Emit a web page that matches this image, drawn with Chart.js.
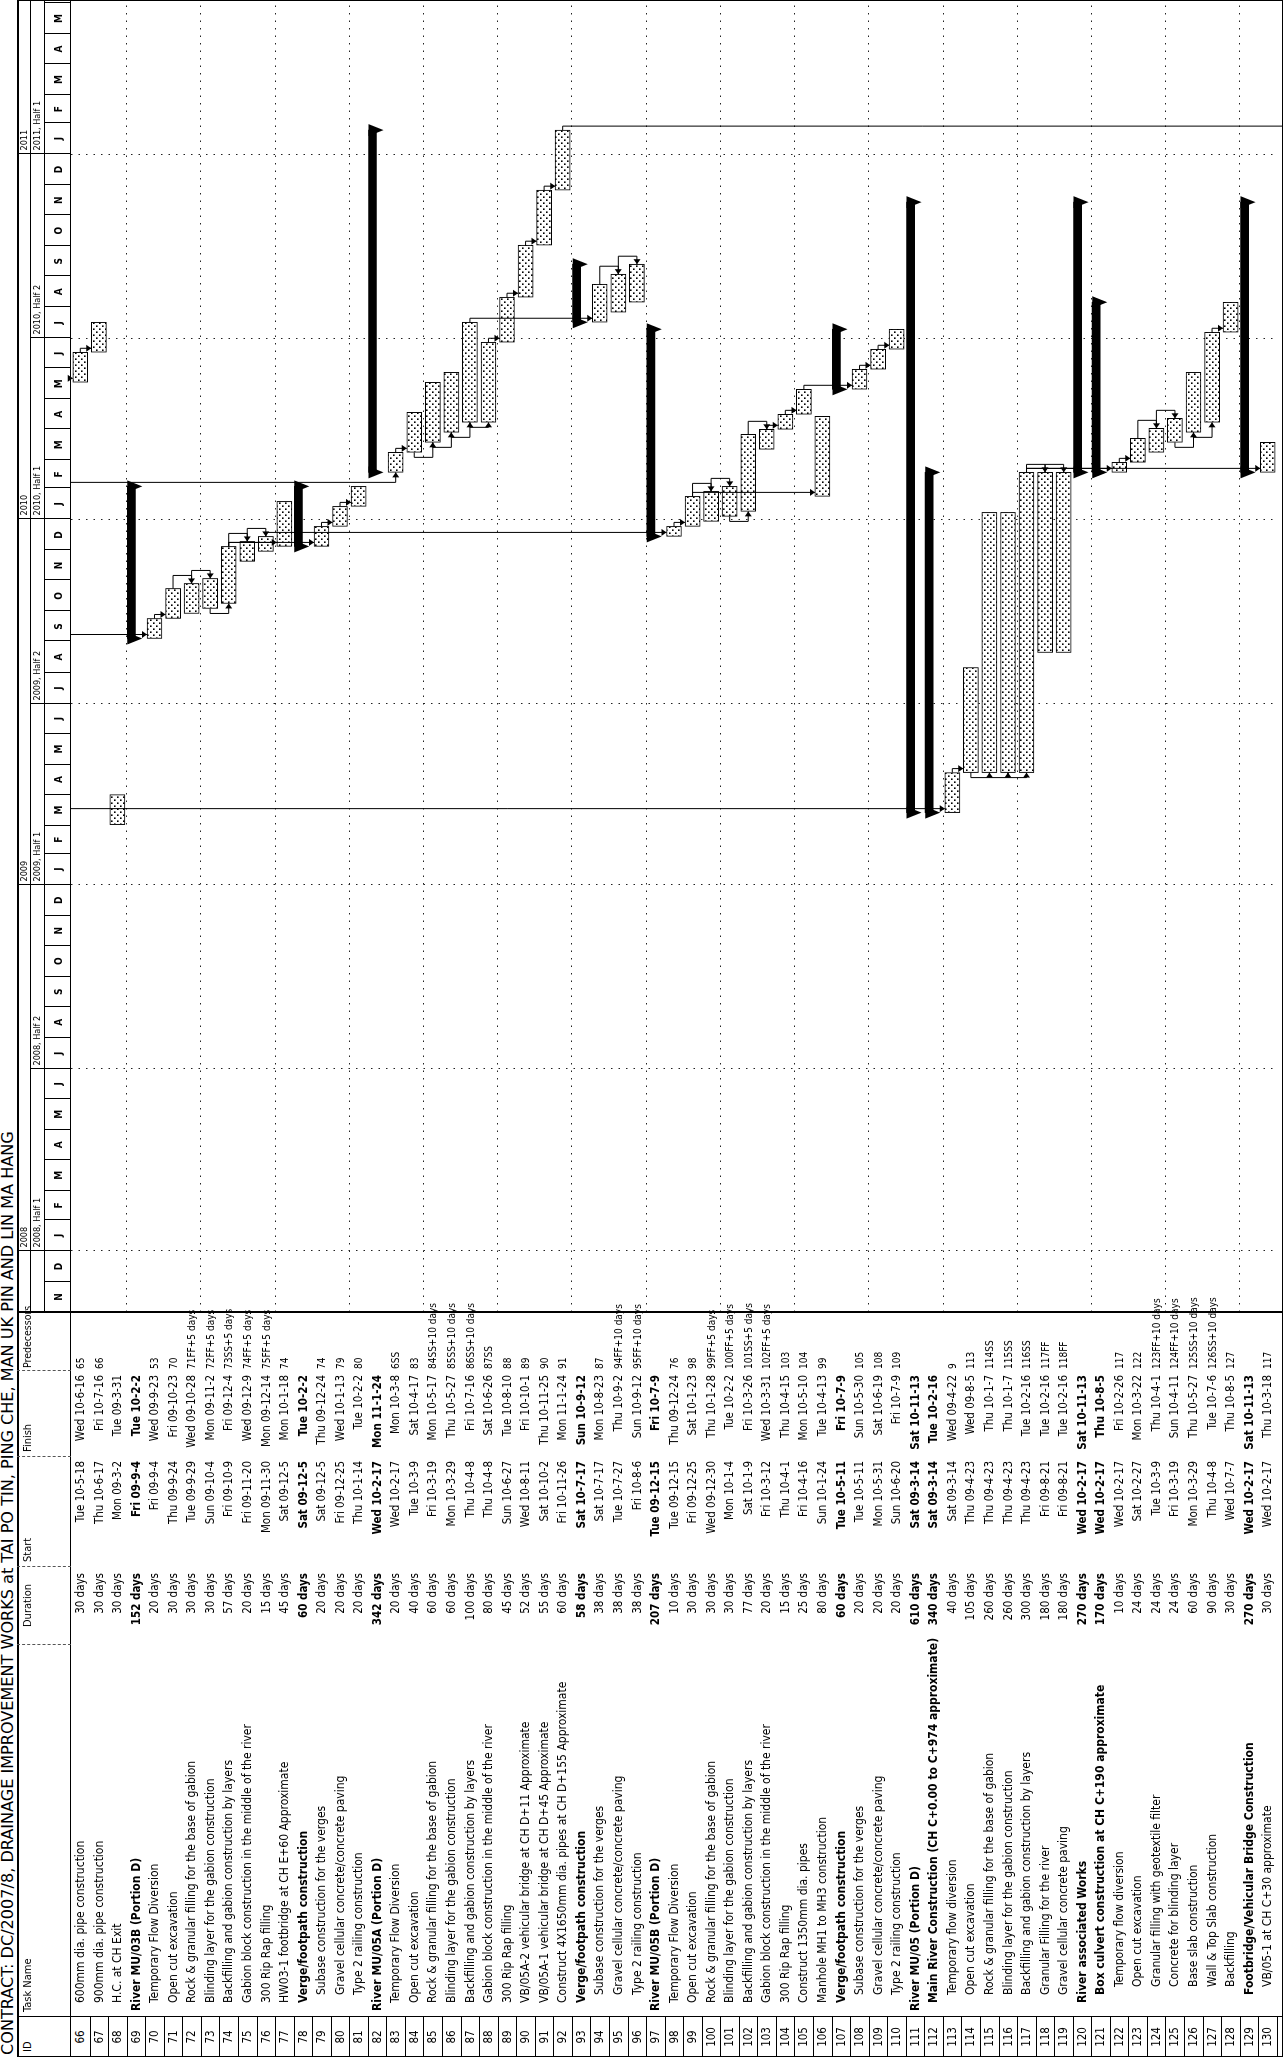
<!DOCTYPE html>
<html>
<head>
<meta charset="utf-8">
<title>DC/2007/8 programme</title>
<script src="https://cdn.jsdelivr.net/npm/chart.js@4.4.1/dist/chart.umd.min.js"></script>
<style>
  html, body { margin:0; padding:0; background:#fff; }
  body { width:1287px; height:2057px; overflow:hidden; position:relative; }
  #sheet { position:absolute; left:0; top:2057px; width:2057px; height:1287px;
           transform-origin:0 0; transform:rotate(-90deg);
           font-family:"Liberation Sans Narrow","DejaVu Sans Condensed","Liberation Sans",sans-serif; color:#000; }
  #title { position:absolute; left:2px; top:0px; font-size:15px; line-height:17px; white-space:nowrap; transform-origin:0 0; }
  #frame { position:absolute; left:0; top:17px; width:2057px; height:1266px; box-sizing:border-box;
           border:1px solid #000; border-top:2px solid #000; }
  .c { position:absolute; white-space:nowrap; font-size:11.5px; height:19px; line-height:19px; }
  .n { font-size:12px; }
  .p { font-size:10px; }
  .b { font-weight:bold; }
  .h { position:absolute; font-size:11px; top:21px; white-space:nowrap; }
  .vl { position:absolute; width:0; border-left:1px solid #000; }
  .dl { position:absolute; width:0; border-left:1px dashed #555; }
  .hl { position:absolute; height:0; border-top:1px solid #000; }
  #gantt { position:absolute; left:745px; top:17px; }
</style>
</head>
<body>
<div id="sheet">
  <div id="title">CONTRACT: DC/2007/8, DRAINAGE IMPROVEMENT WORKS at TAI PO TIN, PING CHE, MAN UK PIN AND LIN MA HANG</div>
  <div id="frame"></div>
  <canvas id="gantt" width="1312" height="1266"></canvas>
</div>
<script>
// task table
var ids = [66,67,68,69,70,71,72,73,74,75,76,77,78,79,80,81,82,83,84,85,86,87,88,89,90,91,92,93,94,95,96,97,98,
  99,100,101,102,103,104,105,106,107,108,109,110,111,112,113,114,115,116,117,118,119,120,121,122,123,124,125,126,127,128,129,130];

var taskNames = [
  '600mm dia. pipe construction','900mm dia. pipe construction','H.C. at CH Exit','River MU/03B (Portion D)',
  'Temporary Flow Diversion','Open cut excavation','Rock & granular filling for the base of gabion',
  'Blinding layer for the gabion construction','Backfilling and gabion construction by layers',
  'Gabion block construction in the middle of the river','300 Rip Rap filling','HW03-1 footbridge at CH E+60 Approximate',
  'Verge/footpath construction','Subase construction for the verges','Gravel cellular concrete/concrete paving',
  'Type 2 railing construction','River MU/05A (Portion D)','Temporary Flow Diversion','Open cut excavation',
  'Rock & granular filling for the base of gabion','Blinding layer for the gabion construction',
  'Backfilling and gabion construction by layers','Gabion block construction in the middle of the river',
  '300 Rip Rap filling','VB/05A-2 vehicular bridge at CH D+11 Approximate','VB/05A-1 vehicular bridge at CH D+45 Approximate',
  'Construct 4X1650mm dia. pipes at CH D+155 Approximate','Verge/footpath construction','Subase construction for the verges',
  'Gravel cellular concrete/concrete paving','Type 2 railing construction','River MU/05B (Portion D)',
  'Temporary Flow Diversion','Open cut excavation','Rock & granular filling for the base of gabion',
  'Blinding layer for the gabion construction','Backfilling and gabion construction by layers',
  'Gabion block construction in the middle of the river','300 Rip Rap filling','Construct 1350mm dia. pipes',
  'Manhole MH1 to MH3 construction','Verge/footpath construction','Subase construction for the verges',
  'Gravel cellular concrete/concrete paving','Type 2 railing construction','River MU/05 (Portion D)',
  'Main River Construction (CH C+0.00 to C+974 approximate)','Temporary flow diversion','Open cut excavation',
  'Rock & granular filling for the base of gabion','Blinding layer for the gabion construction',
  'Backfilling and gabion construction by layers','Granular Filling for the river','Gravel cellular concrete paving',
  'River associated Works','Box culvert construction at CH C+190 approximate','Temporary flow diversion',
  'Open cut excavation','Granular filling with geotextile filter','Concrete for blinding layer','Base slab construction',
  'Wall & Top Slab construction','Backfilling','Footbridge/Vehicular Bridge Construction','VB/05-1 at CH C+30 approximate'];

var outline = [1,1,1,0,1,1,1,1,1,1,1,1,1,2,2,2,0,1,1,1,1,1,1,1,1,1,1,1,2,2,2,0,1,1,1,1,1,1,1,1,1,1,2,2,2,0,1,2,2,2,2,2,2,2,1,2,3,3,3,3,3,3,3,2,3];

var durations = ['30 days','30 days','30 days','152 days','20 days','30 days','30 days','30 days','57 days','20 days',
  '15 days','45 days','60 days','20 days','20 days','20 days','342 days','20 days','40 days','60 days',
  '60 days','100 days','80 days','45 days','52 days','55 days','60 days','58 days','38 days','38 days',
  '38 days','207 days','10 days','30 days','30 days','30 days','77 days','20 days','15 days','25 days',
  '80 days','60 days','20 days','20 days','20 days','610 days','340 days','40 days','105 days','260 days',
  '260 days','300 days','180 days','180 days','270 days','170 days','10 days','24 days','24 days','24 days',
  '60 days','90 days','30 days','270 days','30 days'];

var starts = ['Tue 10-5-18','Thu 10-6-17','Mon 09-3-2','Fri 09-9-4','Fri 09-9-4','Thu 09-9-24','Tue 09-9-29','Sun 09-10-4','Fri 09-10-9','Fri 09-11-20',
  'Mon 09-11-30','Sat 09-12-5','Sat 09-12-5','Sat 09-12-5','Fri 09-12-25','Thu 10-1-14','Wed 10-2-17','Wed 10-2-17','Tue 10-3-9','Fri 10-3-19',
  'Mon 10-3-29','Thu 10-4-8','Thu 10-4-8','Sun 10-6-27','Wed 10-8-11','Sat 10-10-2','Fri 10-11-26','Sat 10-7-17','Sat 10-7-17','Tue 10-7-27',
  'Fri 10-8-6','Tue 09-12-15','Tue 09-12-15','Fri 09-12-25','Wed 09-12-30','Mon 10-1-4','Sat 10-1-9','Fri 10-3-12','Thu 10-4-1','Fri 10-4-16',
  'Sun 10-1-24','Tue 10-5-11','Tue 10-5-11','Mon 10-5-31','Sun 10-6-20','Sat 09-3-14','Sat 09-3-14','Sat 09-3-14','Thu 09-4-23','Thu 09-4-23',
  'Thu 09-4-23','Thu 09-4-23','Fri 09-8-21','Fri 09-8-21','Wed 10-2-17','Wed 10-2-17','Wed 10-2-17','Sat 10-2-27','Tue 10-3-9','Fri 10-3-19',
  'Mon 10-3-29','Thu 10-4-8','Wed 10-7-7','Wed 10-2-17','Wed 10-2-17'];

var finishes = ['Wed 10-6-16','Fri 10-7-16','Tue 09-3-31','Tue 10-2-2','Wed 09-9-23','Fri 09-10-23','Wed 09-10-28','Mon 09-11-2','Fri 09-12-4','Wed 09-12-9',
  'Mon 09-12-14','Mon 10-1-18','Tue 10-2-2','Thu 09-12-24','Wed 10-1-13','Tue 10-2-2','Mon 11-1-24','Mon 10-3-8','Sat 10-4-17','Mon 10-5-17',
  'Thu 10-5-27','Fri 10-7-16','Sat 10-6-26','Tue 10-8-10','Fri 10-10-1','Thu 10-11-25','Mon 11-1-24','Sun 10-9-12','Mon 10-8-23','Thu 10-9-2',
  'Sun 10-9-12','Fri 10-7-9','Thu 09-12-24','Sat 10-1-23','Thu 10-1-28','Tue 10-2-2','Fri 10-3-26','Wed 10-3-31','Thu 10-4-15','Mon 10-5-10',
  'Tue 10-4-13','Fri 10-7-9','Sun 10-5-30','Sat 10-6-19','Fri 10-7-9','Sat 10-11-13','Tue 10-2-16','Wed 09-4-22','Wed 09-8-5','Thu 10-1-7',
  'Thu 10-1-7','Tue 10-2-16','Tue 10-2-16','Tue 10-2-16','Sat 10-11-13','Thu 10-8-5','Fri 10-2-26','Mon 10-3-22','Thu 10-4-1','Sun 10-4-11',
  'Thu 10-5-27','Tue 10-7-6','Thu 10-8-5','Sat 10-11-13','Thu 10-3-18'];

var predecessors = ['65','66','','','53','70','71FF+5 days','72FF+5 days','73SS+5 days','74FF+5 days',
  '75FF+5 days','74','','74','79','80','','6SS','83','84SS+10 days',
  '85SS+10 days','86SS+10 days','87SS','88','89','90','91','','87','94FF+10 days',
  '95FF+10 days','','76','98','99FF+5 days','100FF+5 days','101SS+5 days','102FF+5 days','103','104',
  '99','','105','108','109','','','9','113','114SS',
  '115SS','116SS','117FF','118FF','','','117','122','123FF+10 days','124FF+10 days',
  '125SS+10 days','126SS+10 days','127','','117'];

var summaryTasks = [69,78,82,93,97,107,111,112,120,121,129];
var offPageSuccessors = [92];   // link line running off the right edge

// timescale
var timeRange = ['07-11-1', '11-6-4'];
var monthLetters = ['N','D','J','F','M','A','M','J','J','A','S','O','N','D','J','F','M','A','M','J','J','A','S','O',
  'N','D','J','F','M','A','M','J','J','A','S','O','N','D','J','F','M','A','M'];
var halfLabels = ['2008, Half 1','2008, Half 2','2009, Half 1','2009, Half 2','2010, Half 1','2010, Half 2','2011, Half 1'];
var yearLabels = ['2008','2009','2010','2011'];

function dayOf(y, m, d) { return Math.round((Date.UTC(y, m - 1, d) - Date.UTC(2007, 10, 1)) / 864e5); }
function parseYmd(s) { var p = s.split('-'); return dayOf(2000 + (+p[0]), +p[1], +p[2]); }
function parseDate(s) { return parseYmd(s.split(' ')[1]); }

var axisEnd = parseYmd(timeRange[1]);
var monthStarts = [];
for (var k = 0; k <= monthLetters.length; k++) { monthStarts.push(dayOf(2007, 11 + k, 1)); }
var halfStarts = [], yearStarts = [];
monthStarts.forEach(function (d, k) {
  var mo = (10 + k) % 12;
  if (mo === 0 || mo === 6) halfStarts.push(d);
  if (mo === 0) yearStarts.push(d);
});

var startDay = starts.map(parseDate);
var endDay = finishes.map(function (s) { return parseDate(s) + 1; });
var taskBars = ids.map(function (id, i) { return summaryTasks.indexOf(id) < 0 ? [startDay[i], endDay[i]] : null; });
var summaryBars = ids.map(function (id, i) { return summaryTasks.indexOf(id) >= 0 ? [startDay[i], endDay[i]] : null; });

// ---------- table ----------
var sheet = document.getElementById('sheet');
var ROW0 = 71, ROWH = 18.55;
var cols = { id: [0, 40], name: [40, 412], dur: [412, 490], start: [490, 600], finish: [600, 686], pred: [686, 745] };

function add(cls, css, text) {
  var d = document.createElement('div');
  d.className = cls;
  d.style.cssText = css;
  if (text !== undefined) d.textContent = text;
  sheet.appendChild(d);
  return d;
}
function rightCell(cls, col, pad, top, text) {
  return add(cls, 'left:' + col[0] + 'px;width:' + (col[1] - col[0] - pad) + 'px;text-align:right;top:' + top + 'px', text);
}

add('h', 'left:' + (cols.id[0] + 5) + 'px', 'ID');
add('h', 'left:' + (cols.name[0] + 5) + 'px', 'Task Name');
add('h', 'left:' + (cols.dur[0] + 18) + 'px', 'Duration');
add('h', 'left:' + (cols.start[0] + 5) + 'px', 'Start');
add('h', 'left:' + (cols.finish[0] + 5) + 'px', 'Finish');
add('h', 'left:' + (cols.pred[0] + 3) + 'px;font-size:10.5px', 'Predecessors');

add('hl', 'left:0;top:70px;width:2057px');
add('vl', 'left:744px;top:17px;height:1266px;border-left-width:2px');
add('vl', 'left:' + cols.id[1] + 'px;top:17px;height:1266px');
[cols.dur[0], cols.start[0], cols.finish[0], cols.pred[0]].forEach(function (u) {
  add('dl', 'left:' + u + 'px;top:17px;height:54px');
});

ids.forEach(function (id, i) {
  var top = ROW0 + i * ROWH;
  var bold = summaryTasks.indexOf(id) >= 0 ? ' b' : '';
  add('c', 'left:0;width:' + cols.id[1] + 'px;text-align:center;top:' + top + 'px', String(id));
  add('c n' + bold, 'left:' + (cols.name[0] + 6 + outline[i] * 8) + 'px;top:' + top + 'px', taskNames[i]);
  rightCell('c' + bold, cols.dur, 6, top, durations[i]);
  rightCell('c' + bold, cols.start, 4, top, starts[i]);
  rightCell('c' + bold, cols.finish, 4, top, finishes[i]);
  add('c p', 'left:' + (cols.pred[0] + 2) + 'px;top:' + top + 'px', predecessors[i]);
  add('hl', 'left:0;width:' + cols.id[1] + 'px;top:' + (top + ROWH) + 'px');
});

var title = document.getElementById('title');
title.style.transform = 'scaleX(' + (924 / title.scrollWidth) + ')';

// ---------- chart ----------
var canvas = document.getElementById('gantt');
var tile = document.createElement('canvas');
tile.width = 6; tile.height = 6;
var tg = tile.getContext('2d');
tg.fillStyle = '#fff'; tg.fillRect(0, 0, 6, 6);
tg.fillStyle = '#000'; tg.fillRect(1, 1, 1.6, 1.6); tg.fillRect(4, 4, 1.6, 1.6);
var dots = canvas.getContext('2d').createPattern(tile, 'repeat');

function arrowHead(ctx, x, y, dir) {
  var L = 5, W = 3.5;
  ctx.beginPath();
  if (dir === 'down') { ctx.moveTo(x - W, y - L); ctx.lineTo(x + W, y - L); }
  if (dir === 'right') { ctx.moveTo(x - L, y - W); ctx.lineTo(x - L, y + W); }
  if (dir === 'left') { ctx.moveTo(x + L, y - W); ctx.lineTo(x + L, y + W); }
  ctx.lineTo(x, y);
  ctx.closePath();
  ctx.fill();
}

function drawLinks(chart) {
  var ctx = chart.ctx, xs = chart.scales.x, ysc = chart.scales.y;
  var X = function (v) { return xs.getPixelForValue(v); };
  var Y = function (i) { return ysc.getPixelForValue(i); };
  var top = chart.chartArea.top, bottom = chart.chartArea.bottom, H = 7.5;
  ctx.save();
  ctx.strokeStyle = '#000'; ctx.fillStyle = '#000'; ctx.lineWidth = 1;
  function path(pts) {
    ctx.beginPath();
    pts.forEach(function (p, j) { if (j) ctx.lineTo(p[0], p[1]); else ctx.moveTo(p[0], p[1]); });
    ctx.stroke();
  }
  predecessors.forEach(function (p, si) {
    var m = /^(\d+)(FS|SS|FF|SF)?/.exec(p);
    if (!m) return;
    var pi = ids.indexOf(+m[1]), type = m[2] || 'FS';
    var ys = Y(si), ss = X(startDay[si]), se = X(endDay[si]);
    var xm;
    if (type === 'FS') {
      xm = ss + 4;
      path(pi >= 0 ? [[X(endDay[pi]), Y(pi)], [xm, Y(pi)], [xm, ys - H]] : [[xm, top], [xm, ys - H]]);
      arrowHead(ctx, xm, ys - H, 'down');
    } else if (type === 'SS') {
      var ps = pi >= 0 ? X(startDay[pi]) : ss;
      xm = Math.min(ps, ss) - (pi >= 0 ? 5 : 10);
      path(pi >= 0 ? [[ps, Y(pi)], [xm, Y(pi)], [xm, ys], [ss, ys]] : [[xm, top], [xm, ys], [ss, ys]]);
      arrowHead(ctx, ss, ys, 'right');
    } else if (type === 'FF') {
      var pe = X(endDay[pi]);
      xm = Math.max(pe, se) + 8;
      path([[pe, Y(pi)], [xm, Y(pi)], [xm, ys], [se, ys]]);
      arrowHead(ctx, se, ys, 'left');
    }
  });
  offPageSuccessors.forEach(function (id) {
    var i = ids.indexOf(id), pe = X(endDay[i]);
    path([[pe, Y(i)], [pe + 4, Y(i)], [pe + 4, bottom + 6]]);
  });
  ctx.restore();
}

function drawTimescale(chart) {
  var ctx = chart.ctx, xs = chart.scales.x, W = chart.width;
  var X = function (v) { return Math.round(xs.getPixelForValue(v)) + 0.5; };
  ctx.save();
  ctx.strokeStyle = '#000'; ctx.fillStyle = '#000'; ctx.lineWidth = 1;
  ctx.beginPath();
  ctx.moveTo(0, 13.5); ctx.lineTo(W, 13.5);
  ctx.moveTo(0, 27.5); ctx.lineTo(W, 27.5);
  monthStarts.forEach(function (d) { ctx.moveTo(X(d), 27); ctx.lineTo(X(d), 54); });
  halfStarts.forEach(function (d) { ctx.moveTo(X(d), 13); ctx.lineTo(X(d), 27); });
  yearStarts.forEach(function (d) { ctx.moveTo(X(d), 0); ctx.lineTo(X(d), 13); });
  ctx.stroke();
  ctx.textBaseline = 'middle';
  ctx.textAlign = 'center';
  ctx.font = 'bold 10px "Liberation Sans Narrow", "DejaVu Sans Condensed", "Liberation Sans", sans-serif';
  monthLetters.forEach(function (t, k) {
    ctx.fillText(t, (xs.getPixelForValue(monthStarts[k]) + xs.getPixelForValue(monthStarts[k + 1])) / 2, 42);
  });
  ctx.textAlign = 'left';
  ctx.font = '9px "Liberation Sans Narrow", "DejaVu Sans Condensed", "Liberation Sans", sans-serif';
  halfLabels.forEach(function (t, k) { ctx.fillText(t, X(halfStarts[k]) + 3, 21); });
  yearLabels.forEach(function (t, k) { ctx.fillText(t, X(yearStarts[k]) + 3, 7.5); });
  ctx.restore();
}

var ganttPlugin = {
  id: 'ganttExtras',
  beforeDatasetDraw: function (chart, args) {
    if (args.index === 1) { chart.ctx.save(); chart.ctx.translate(0, -4.6); }
  },
  afterDatasetDraw: function (chart, args) {
    if (args.index !== 1) return;
    var ctx = chart.ctx;
    ctx.fillStyle = '#000';
    args.meta.data.forEach(function (el, i) {
      if (!summaryBars[i]) return;
      [Math.min(el.x, el.base), Math.max(el.x, el.base)].forEach(function (t) {
        ctx.beginPath();
        ctx.moveTo(t - 6, el.y - 4); ctx.lineTo(t + 6, el.y - 4); ctx.lineTo(t, el.y + 11);
        ctx.closePath(); ctx.fill();
      });
    });
    ctx.restore();
  },
  afterDatasetsDraw: function (chart) { drawLinks(chart); },
  afterDraw: function (chart) { drawTimescale(chart); }
};

var chart = new Chart(canvas, {
  type: 'bar',
  data: {
    labels: ids.map(String),
    datasets: [
      { label: 'Tasks', data: taskBars, backgroundColor: dots, borderColor: '#000', borderWidth: 1,
        borderSkipped: false, barThickness: 15, grouped: false },
      { label: 'Summary tasks', data: summaryBars, backgroundColor: '#000', borderWidth: 0,
        barThickness: 8, grouped: false }
    ]
  },
  options: {
    indexAxis: 'y',
    responsive: false,
    animation: false,
    layout: { padding: { top: 54, bottom: 6, left: 0, right: 0 } },
    plugins: { legend: { display: false }, tooltip: { enabled: false } },
    scales: {
      x: {
        type: 'linear', min: 0, max: axisEnd,
        afterFit: function (s) { s.height = 0; },
        afterBuildTicks: function (s) { s.ticks = monthStarts.map(function (v) { return { value: v }; }); },
        ticks: { display: false },
        grid: { drawTicks: false, lineWidth: 1,
                color: function (c) { return c.tick && halfStarts.indexOf(c.tick.value) >= 0 ? '#222' : 'rgba(0,0,0,0)'; } },
        border: { display: false, dash: [1.5, 6] }
      },
      y: {
        type: 'category', offset: true,
        afterFit: function (s) { s.width = 0; },
        ticks: { display: false },
        grid: { offset: true, drawTicks: false, lineWidth: 1,
                color: function (c) { return c.index % 4 === 3 ? '#222' : 'rgba(0,0,0,0)'; } },
        border: { display: false, dash: [1.5, 6] }
      }
    }
  },
  plugins: [ganttPlugin]
});
</script>
</body>
</html>
